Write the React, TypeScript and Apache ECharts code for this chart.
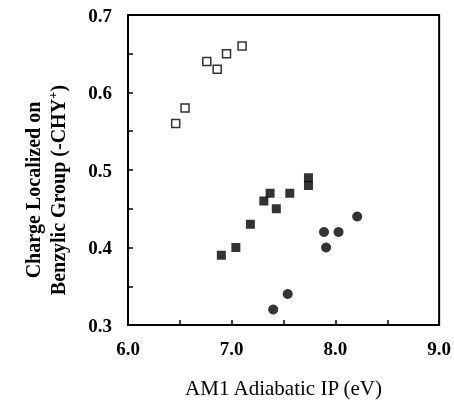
import React, { useEffect, useRef } from "react";
import * as echarts from "echarts";

const openSquares: [number, number][] = [
  [6.46, 0.56], [6.55, 0.58], [6.76, 0.64], [6.86, 0.63], [6.95, 0.65], [7.10, 0.66],
];
const filledSquares: [number, number][] = [
  [6.90, 0.39], [7.04, 0.40], [7.18, 0.43], [7.31, 0.46], [7.37, 0.47],
  [7.43, 0.45], [7.56, 0.47], [7.74, 0.49], [7.74, 0.48],
];
const filledCircles: [number, number][] = [
  [7.40, 0.32], [7.54, 0.34], [7.89, 0.42], [7.91, 0.40], [8.03, 0.42], [8.21, 0.44],
];
const xTitle = "AM1 Adiabatic IP (eV)";
const yTitle = "Charge Localized on\nBenzylic Group (-CHY{sup|+})";

const SERIF = "'Liberation Serif', 'Times New Roman', serif";

export default function App() {
  const ref = useRef<HTMLDivElement>(null);
  useEffect(() => {
    document.body.style.margin = "0";
    if (!ref.current) return;
    const chart = echarts.init(ref.current, undefined, { renderer: "svg" });
    chart.setOption({
      animation: false,
      grid: { left: 128, right: 14, top: 15, bottom: 75, show: true, borderColor: "#000", borderWidth: 2 },
      xAxis: [
        {
          type: "value", min: 6, max: 9, interval: 1, position: "bottom",
          axisLine: { show: true, onZero: false, lineStyle: { color: "#000", width: 2 } },
          axisTick: { show: true, inside: true, length: 5, lineStyle: { color: "#000", width: 1.5 } },
          minorTick: { show: true, splitNumber: 2, length: 5, lineStyle: { color: "#000", width: 1.5 } },
          splitLine: { show: false },
          axisLabel: {
            formatter: (v: number) => v.toFixed(1), margin: 14, color: "#000",
            fontFamily: SERIF, fontWeight: "bold", fontSize: 19,
          },
          name: xTitle,
          nameLocation: "middle",
          nameGap: 52,
          nameTextStyle: { color: "#000", fontFamily: SERIF, fontSize: 21 },
        },
      ],
      yAxis: [
        {
          type: "value", min: 0.3, max: 0.7, interval: 0.1, position: "left",
          axisLine: { show: true, onZero: false, lineStyle: { color: "#000", width: 2 } },
          axisTick: { show: true, inside: true, length: 5, lineStyle: { color: "#000", width: 1.5 } },
          minorTick: { show: true, splitNumber: 2, length: 5, lineStyle: { color: "#000", width: 1.5 } },
          splitLine: { show: false },
          axisLabel: {
            formatter: (v: number) => v.toFixed(1), margin: 16, color: "#000",
            fontFamily: SERIF, fontWeight: "bold", fontSize: 19, padding: [8, 0, 0, 0],
          },
          name: yTitle,
          nameLocation: "middle",
          nameRotate: 90,
          nameGap: 58,
          nameTextStyle: {
            color: "#000", fontFamily: SERIF, fontWeight: "bold", fontSize: 20, lineHeight: 25,
            padding: [0, 40, 0, 0],
            rich: { sup: { color: "#000", fontFamily: SERIF, fontWeight: "bold", fontSize: 13, padding: [0, 0, 10, 0] } },
          },
        },
      ],
      series: [
        {
          type: "scatter", data: openSquares, symbol: "rect", symbolSize: 8, clip: false,
          itemStyle: { color: "#fff", borderColor: "#000", borderWidth: 1.5 },
        },
        {
          type: "scatter", data: filledSquares, symbol: "rect", symbolSize: 9, clip: false,
          itemStyle: { color: "#000" },
        },
        {
          type: "scatter", data: filledCircles, symbol: "circle", symbolSize: 10, clip: false,
          itemStyle: { color: "#000" },
        },
      ],
    });
    return () => chart.dispose();
  }, []);
  return <div ref={ref} style={{ position: "fixed", left: 0, top: 0, width: 454, height: 403 }} />;
}
